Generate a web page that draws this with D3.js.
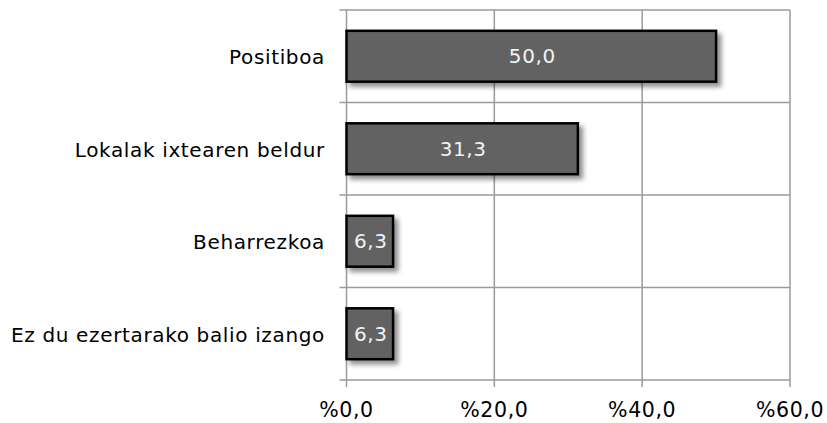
<!DOCTYPE html>
<html><head><meta charset="utf-8">
<script src="https://cdn.jsdelivr.net/npm/d3@7"></script>
<style>body{margin:0;background:#fff}svg{display:block}</style>
</head><body>
<svg id="c" width="827" height="423"></svg>
<script>
const categories = ["Positiboa","Lokalak ixtearen beldur","Beharrezkoa","Ez du ezertarako balio izango"];
const values = [50.0, 31.3, 6.3, 6.3];
const xTicks = [0, 20, 40, 60];
const fmt = v => v.toFixed(1).replace(".", ",");

const svg = d3.select("#c");
const m = {l:346.5, r:790, t:10, b:380};
const x = d3.scaleLinear().domain([0,60]).range([m.l, m.r]);
const y = d3.scaleBand().domain(categories).range([m.t, m.b]).paddingInner(0.45).paddingOuter(0.225);

const defs = svg.append("defs");
const f = defs.append("filter").attr("id","sh").attr("x","-10%").attr("y","-20%").attr("width","130%").attr("height","160%");
f.append("feGaussianBlur").attr("in","SourceAlpha").attr("stdDeviation",2.5).attr("result","b");
f.append("feOffset").attr("in","b").attr("dx",4).attr("dy",4).attr("result","o");
f.append("feComponentTransfer").attr("in","o").attr("result","o2").append("feFuncA").attr("type","linear").attr("slope",0.45);
const mg = f.append("feMerge"); mg.append("feMergeNode").attr("in","o2"); mg.append("feMergeNode").attr("in","SourceGraphic");

const grid = "#9a9a9a";
xTicks.forEach(t => {
  svg.append("line").attr("x1",x(t)).attr("x2",x(t)).attr("y1",m.t).attr("y2",m.b+7).attr("stroke",grid).attr("stroke-width",1.5);
});
const step = (m.b - m.t)/categories.length;
d3.range(categories.length+1).forEach(i => {
  const yy = m.t + i*step;
  svg.append("line").attr("x1",m.l-7).attr("x2",m.r).attr("y1",yy).attr("y2",yy).attr("stroke",grid).attr("stroke-width",1.5);
});

svg.selectAll("rect.bar").data(values).enter().append("rect").attr("class","bar")
  .attr("x", x(0)).attr("y",(d,i)=>y(categories[i]))
  .attr("width", d => x(d)-x(0)).attr("height", y.bandwidth())
  .attr("fill","#626262").attr("stroke","#000").attr("stroke-width",2.5).attr("filter","url(#sh)");

const font = "'DejaVu Sans', Verdana, sans-serif";
svg.selectAll("text.val").data(values).enter().append("text")
  .attr("x", d => (x(0)+x(d))/2 + 1).attr("y",(d,i)=>y(categories[i])+y.bandwidth()/2)
  .attr("dy","0.36em").attr("text-anchor","middle").attr("fill","#f2f2f2")
  .style("font-family",font).style("font-size","20px").style("letter-spacing","0.6px").text(fmt);

svg.selectAll("text.cat").data(categories).enter().append("text")
  .attr("x", 325).attr("y", d => y(d)+y.bandwidth()/2 + 1)
  .attr("dy","0.36em").attr("text-anchor","end").attr("fill","#000")
  .style("font-family",font).style("font-size","20px").style("letter-spacing","0.65px").text(d=>d);

svg.selectAll("text.xt").data(xTicks).enter().append("text")
  .attr("x", d => x(d)).attr("y", 417).attr("text-anchor","middle")
  .style("font-family",font).style("font-size","20.5px").style("letter-spacing","0.6px").text(d => "%" + fmt(d));
</script>
</body></html>
